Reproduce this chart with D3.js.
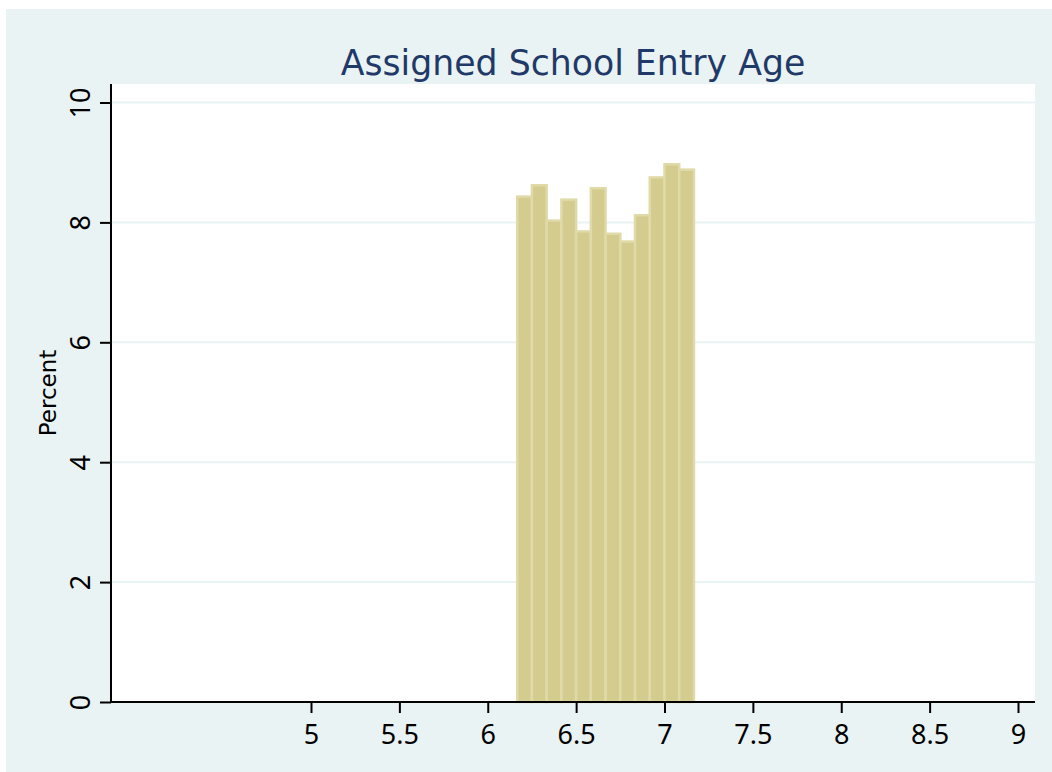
<!DOCTYPE html>
<html lang="en">
<head>
<meta charset="utf-8">
<style>
  body { margin: 0; background: #fff; }
  svg text { font-family: "Noto Sans", "DejaVu Sans", sans-serif; }
</style>
</head>
<body>
<svg width="1052" height="772"></svg>
<script src="https://cdn.jsdelivr.net/npm/d3@7/dist/d3.min.js"></script>
<script>
// histogram bins: monthly bins starting at 6 + 2/12 years
var binStart = [6.1667, 6.25, 6.3333, 6.4167, 6.5, 6.5833, 6.6667, 6.75, 6.8333, 6.9167, 7.0, 7.0833];
var binWidth = 1 / 12;
var percent = [8.43, 8.62, 8.03, 8.38, 7.85, 8.57, 7.81, 7.68, 8.12, 8.75, 8.97, 8.88];
var xTicks = [5, 5.5, 6, 6.5, 7, 7.5, 8, 8.5, 9];
var yTicks = [0, 2, 4, 6, 8, 10];

var svg = d3.select("svg");

// outer background
svg.append("rect").attr("x", 6).attr("y", 9).attr("width", 1046).attr("height", 763)
    .attr("fill", "#eaf3f3");

var plot = { left: 111, right: 1035, top: 84, bottom: 702 };

svg.append("rect").attr("x", plot.left).attr("y", plot.top)
    .attr("width", plot.right - plot.left).attr("height", plot.bottom - plot.top)
    .attr("fill", "#fff");

// x: 5 -> 311, 9 -> 1018
var x = d3.scaleLinear().domain([5, 9]).range([311, 1018]);
var y = d3.scaleLinear().domain([0, 10]).range([plot.bottom, 102.5]);

// grid
svg.append("g").selectAll("line").data(yTicks.filter(function(d) { return d > 0; }))
    .enter().append("line")
    .attr("x1", plot.left).attr("x2", plot.right)
    .attr("y1", function(d) { return y(d); }).attr("y2", function(d) { return y(d); })
    .attr("stroke", "#eaf3f3").attr("stroke-width", 2);

// bars
svg.append("g").selectAll("rect").data(percent)
    .enter().append("rect")
    .attr("x", function(d, i) { return x(binStart[i]); })
    .attr("y", function(d) { return y(d); })
    .attr("width", function(d, i) { return x(binStart[i] + binWidth) - x(binStart[i]); })
    .attr("height", function(d) { return y(0) - y(d); })
    .attr("fill", "#d4cb8f")
    .attr("stroke", "#e0daa8")
    .attr("stroke-width", 2.5);

// y axis
var yAxis = svg.append("g")
    .attr("transform", "translate(" + plot.left + ",0)")
    .call(d3.axisLeft(y).tickValues(yTicks).tickSize(11).tickPadding(10).tickFormat(d3.format("d")));
yAxis.select(".domain").attr("stroke", "#000").attr("stroke-width", 2)
    .attr("d", "M0," + plot.top + "V" + plot.bottom);
yAxis.selectAll(".tick line").attr("stroke", "#000").attr("stroke-width", 2);
yAxis.selectAll(".tick text")
    .attr("font-size", 27).attr("fill", "#000")
    .attr("transform", "rotate(-90)")
    .attr("x", 0).attr("y", -21).attr("dy", "0")
    .attr("text-anchor", "middle");

// x axis
var xAxis = svg.append("g")
    .attr("transform", "translate(0," + plot.bottom + ")")
    .call(d3.axisBottom(x).tickValues(xTicks).tickSize(11).tickPadding(12).tickFormat(d3.format("")));
xAxis.select(".domain").attr("stroke", "#000").attr("stroke-width", 2)
    .attr("d", "M" + plot.left + ",0H" + plot.right);
xAxis.selectAll(".tick line").attr("stroke", "#000").attr("stroke-width", 2);
xAxis.selectAll(".tick text").attr("font-size", 27).attr("fill", "#000");

// y label
svg.append("text")
    .attr("transform", "translate(56," + ((plot.top + plot.bottom) / 2) + ") rotate(-90)")
    .attr("text-anchor", "middle")
    .style("font-family", "'DejaVu Sans'")
    .attr("font-size", 23)
    .attr("fill", "#000")
    .text("Percent");

// title
svg.append("text")
    .attr("x", (plot.left + plot.right) / 2)
    .attr("y", 75)
    .attr("text-anchor", "middle")
    .style("font-family", "'DejaVu Sans'")
    .attr("font-size", 34.7)
    .attr("fill", "#1f3a68")
    .text("Assigned School Entry Age");
</script>
</body>
</html>
